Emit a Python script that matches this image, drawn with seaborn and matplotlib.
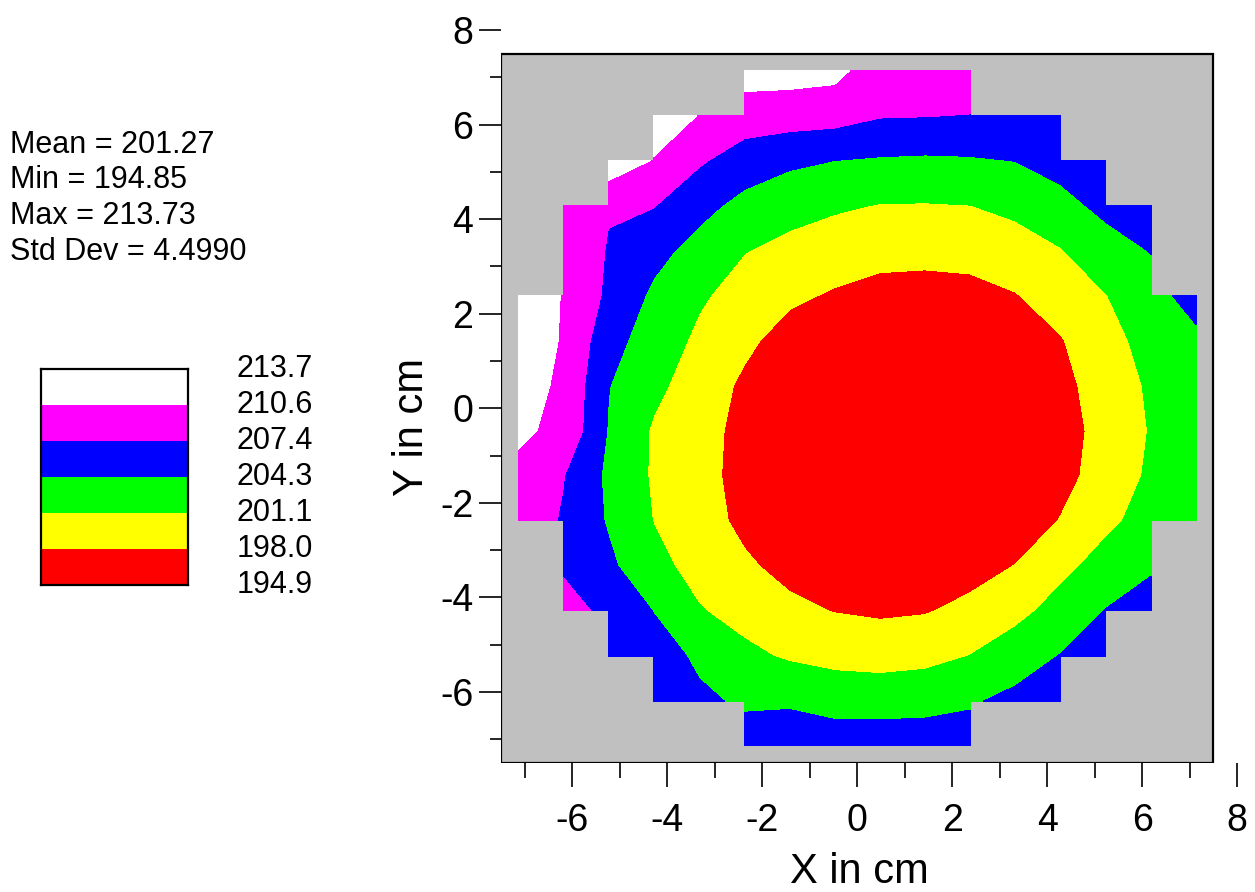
import numpy as np
import matplotlib
matplotlib.use("Agg")
import matplotlib.pyplot as plt
from matplotlib.colors import ListedColormap
from matplotlib.patches import Rectangle
import seaborn as sns

nan = np.nan

# node positions of the measurement grid (cm)
x_nodes = [-7.14, -6.19, -5.24, -4.28, -3.33, -2.38, -1.43, -0.48,
           0.48, 1.43, 2.38, 3.33, 4.28, 5.24, 6.19, 7.14]
y_nodes = [7.14, 6.19, 5.24, 4.28, 3.33, 2.38, 1.43, 0.48,
           -0.48, -1.43, -2.38, -3.33, -4.28, -5.24, -6.19, -7.14]

# values, one row per y node (top to bottom), nan = blanked
z_rows = [
    [nan, nan, nan, nan, nan, 212.0, 211.9, 211.5, 208.8, 210.1, 210.0, nan, nan, nan, nan, nan],
    [nan, nan, nan, 212.5, 210.5, 209.0, 208.8, 208.6, 207.6, 207.5, 207.3, 206.4, 206.3, nan, nan, nan],
    [nan, nan, 213.0, 210.4, 207.8, 205.9, 204.9, 204.3, 204.0, 203.85, 204.0, 204.35, 205.3, 206.0, nan, nan],
    [nan, 209.0, 207.6, 207.5, 205.2, 203.4, 202.2, 201.5, 200.95, 200.9, 201.05, 201.8, 203.4, 205.0, 205.8, nan],
    [nan, 209.8, 207.2, 205.2, 203.2, 201.2, 200.2, 199.4, 198.85, 198.7, 198.85, 199.7, 200.9, 203.1, 204.4, nan],
    [212.0, 210.5, 206.8, 203.7, 201.5, 199.9, 198.5, 197.7, 197.1, 197.05, 197.2, 197.85, 199.3, 201.0, 203.3, 205.4],
    [212.2, 210.4, 205.4, 202.8, 200.5, 198.6, 196.9, 196.5, 196.0, 195.95, 196.2, 196.9, 197.8, 200.0, 202.2, 203.7],
    [211.8, 210.1, 204.4, 201.8, 199.6, 197.5, 196.3, 195.7, 195.3, 195.25, 195.55, 196.3, 197.35, 199.05, 201.6, 203.3],
    [211.1, 209.9, 204.1, 200.7, 199.0, 197.2, 196.0, 195.35, 194.9, 194.9, 195.25, 196.0, 197.05, 198.8, 201.3, 203.2],
    [209.9, 207.5, 203.7, 200.7, 198.8, 197.2, 196.1, 195.4, 195.0, 195.0, 195.3, 196.0, 197.1, 199.2, 201.6, 203.4],
    [209.0, 207.15, 204.0, 201.0, 199.1, 197.4, 196.4, 195.8, 195.45, 195.45, 195.75, 196.5, 198.1, 200.4, 202.3, 203.8],
    [nan, 206.9, 204.9, 202.0, 200.0, 198.4, 197.2, 196.65, 196.3, 196.45, 196.95, 198.05, 200.2, 202.3, 204.0, nan],
    [nan, 208.8, 206.5, 204.2, 201.3, 200.0, 198.6, 197.9, 197.6, 197.8, 198.7, 200.1, 202.3, 204.4, 205.3, nan],
    [nan, nan, 206.3, 205.6, 203.8, 201.8, 200.7, 200.0, 199.7, 200.1, 201.15, 202.9, 204.4, 205.6, nan, nan],
    [nan, nan, nan, 205.8, 204.8, 203.9, 204.0, 203.4, 203.3, 203.5, 204.0, 205.0, 205.6, nan, nan, nan],
    [nan, nan, nan, nan, nan, 205.5, 205.6, 205.6, 205.7, 205.6, 205.5, nan, nan, nan, nan, nan],
]

levels = [194.85, 198.0, 201.1, 204.3, 207.4, 210.6, 213.73]
level_labels = ["213.7", "210.6", "207.4", "204.3", "201.1", "198.0", "194.9"]
band_colors = ["#ff0000", "#ffff00", "#00ff00", "#0000ff", "#ff00ff", "#ffffff"]
band_index = [5, 4, 3, 2, 1, 0]  # legend rows, top to bottom

stats_lines = ["Mean = 201.27", "Min = 194.85", "Max = 213.73", "Std Dev = 4.4990"]

x_major = [-6, -4, -2, 0, 2, 4, 6, 8]
x_minor = [-7, -5, -3, -1, 1, 3, 5, 7]
y_major = [-6, -4, -2, 0, 2, 4, 6, 8]
y_minor = [-7, -5, -3, -1, 1, 3, 5, 7]

sns.set_style("white")
plt.rcParams["font.family"] = ["Liberation Sans", "DejaVu Sans"]
plt.rcParams["axes.unicode_minus"] = False
plt.rcParams["text.color"] = "black"
plt.rcParams["axes.labelcolor"] = "black"

W, H = 1255, 892
fig = plt.figure(figsize=(W / 100, H / 100), dpi=100)

# mapa principal
ax = fig.add_axes([501 / W, (H - 763) / H, 737 / W, 734 / H])
ax.set_xlim(-7.5, 8.02)
ax.set_ylim(-7.5, 8.02)
ax.add_patch(Rectangle((-7.5, -7.5), 15, 15, facecolor="#c0c0c0", edgecolor="none", zorder=0))
Z = np.ma.masked_invalid(np.array(z_rows, dtype=float))
ax.contourf(x_nodes, y_nodes, Z, levels=levels, colors=band_colors,
            corner_mask=False, antialiased=False, zorder=1)
ax.add_patch(Rectangle((-7.5, -7.5), 15, 15, fill=False, edgecolor="black", lw=1.6, zorder=3))
for s in ax.spines.values():
    s.set_visible(False)

ax.set_xticks(x_major)
ax.set_xticks(x_minor, minor=True)
ax.set_yticks(y_major)
ax.set_yticks(y_minor, minor=True)
ax.set_xticklabels([str(v) for v in x_major], fontsize=27)
ax.set_yticklabels([str(v) for v in y_major], fontsize=27)
ax.tick_params(which="both", direction="out", bottom=True, left=True, colors="black", width=1.2)
ax.tick_params(axis="x", which="major", length=17, pad=12)
ax.tick_params(axis="x", which="minor", length=11)
ax.tick_params(axis="y", which="major", length=16, pad=4)
ax.tick_params(axis="y", which="minor", length=8)

ax.set_xlabel("X in cm", fontsize=30)
ax.xaxis.set_label_coords(0.486, -0.121)
ax.set_ylabel("Y in cm", fontsize=30)
ax.yaxis.set_label_coords(-0.093, 0.458)

# estadisticas
for k, line in enumerate(stats_lines):
    fig.text(10 / W, 1 - (153 + 35.5 * k) / H, line, fontsize=22, ha="left", va="baseline")

# leyenda de colores
ax_leg = fig.add_axes([41 / W, (H - 585) / H, 147 / W, 216 / H])
sns.heatmap(np.array(band_index).reshape(-1, 1), cmap=ListedColormap(band_colors),
            vmin=-0.5, vmax=5.5, cbar=False, ax=ax_leg,
            xticklabels=False, yticklabels=False)
for s in ax_leg.spines.values():
    s.set_visible(True)
    s.set_color("black")
    s.set_linewidth(1.6)
for k, lab in enumerate(level_labels):
    ax_leg.text(1.85, k, lab, ha="right", va="center", fontsize=22, clip_on=False)

fig.savefig("out.png", dpi=100)
